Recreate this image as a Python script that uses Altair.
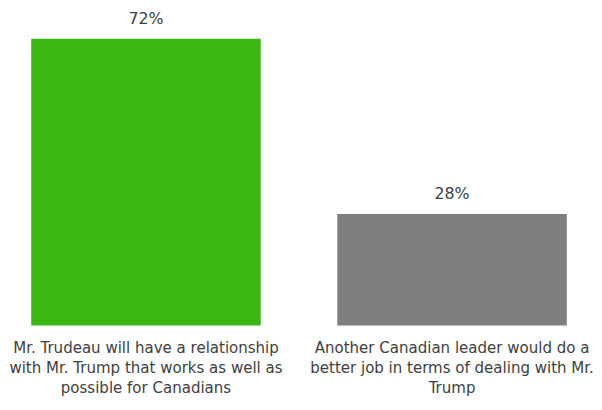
import altair as alt
import pandas as pd

categories = [
    "Mr. Trudeau will have a relationship|with Mr. Trump that works as well as|possible for Canadians",
    "Another Canadian leader would do a|better job in terms of dealing with Mr.|Trump",
]
values = [72, 28]
labels = ["72%", "28%"]
colors = ["#3cb815", "#7f7f7f"]

df = pd.DataFrame({"cat": categories, "val": values, "lab": labels, "col": colors})

x = alt.X(
    "cat:N",
    sort=categories,
    title=None,
    scale=alt.Scale(paddingInner=0.25, paddingOuter=0.05),
    axis=alt.Axis(
        domain=False,
        ticks=False,
        grid=False,
        labelAngle=0,
        labelExpr="split(datum.label, '|')",
        labelFont="DejaVu Sans",
        labelFontSize=15.2,
        labelColor="#404040",
        labelLineHeight=20.5,
        labelPadding=15,
        labelLimit=400,
        labelBaseline="top",
    ),
)
y = alt.Y("val:Q", scale=alt.Scale(domain=[0, 78.9]), axis=None)

bars = alt.Chart(df).mark_bar().encode(x=x, y=y, color=alt.Color("col:N", scale=None))
text = alt.Chart(df).mark_text(
    dy=-20, fontSize=16, font="DejaVu Sans", color="#404040", baseline="middle"
).encode(x=x, y=y, text="lab:N")

chart = (
    alt.layer(bars, text)
    .properties(
        width=573,
        height=318,
        padding=0,
        view=alt.ViewBackground(stroke="transparent", strokeWidth=0),
    )
    .configure_view(stroke="transparent", strokeWidth=0)
    .configure(background="white")
)
chart.save("out.html", embed_options={"renderer": "svg", "actions": False})
